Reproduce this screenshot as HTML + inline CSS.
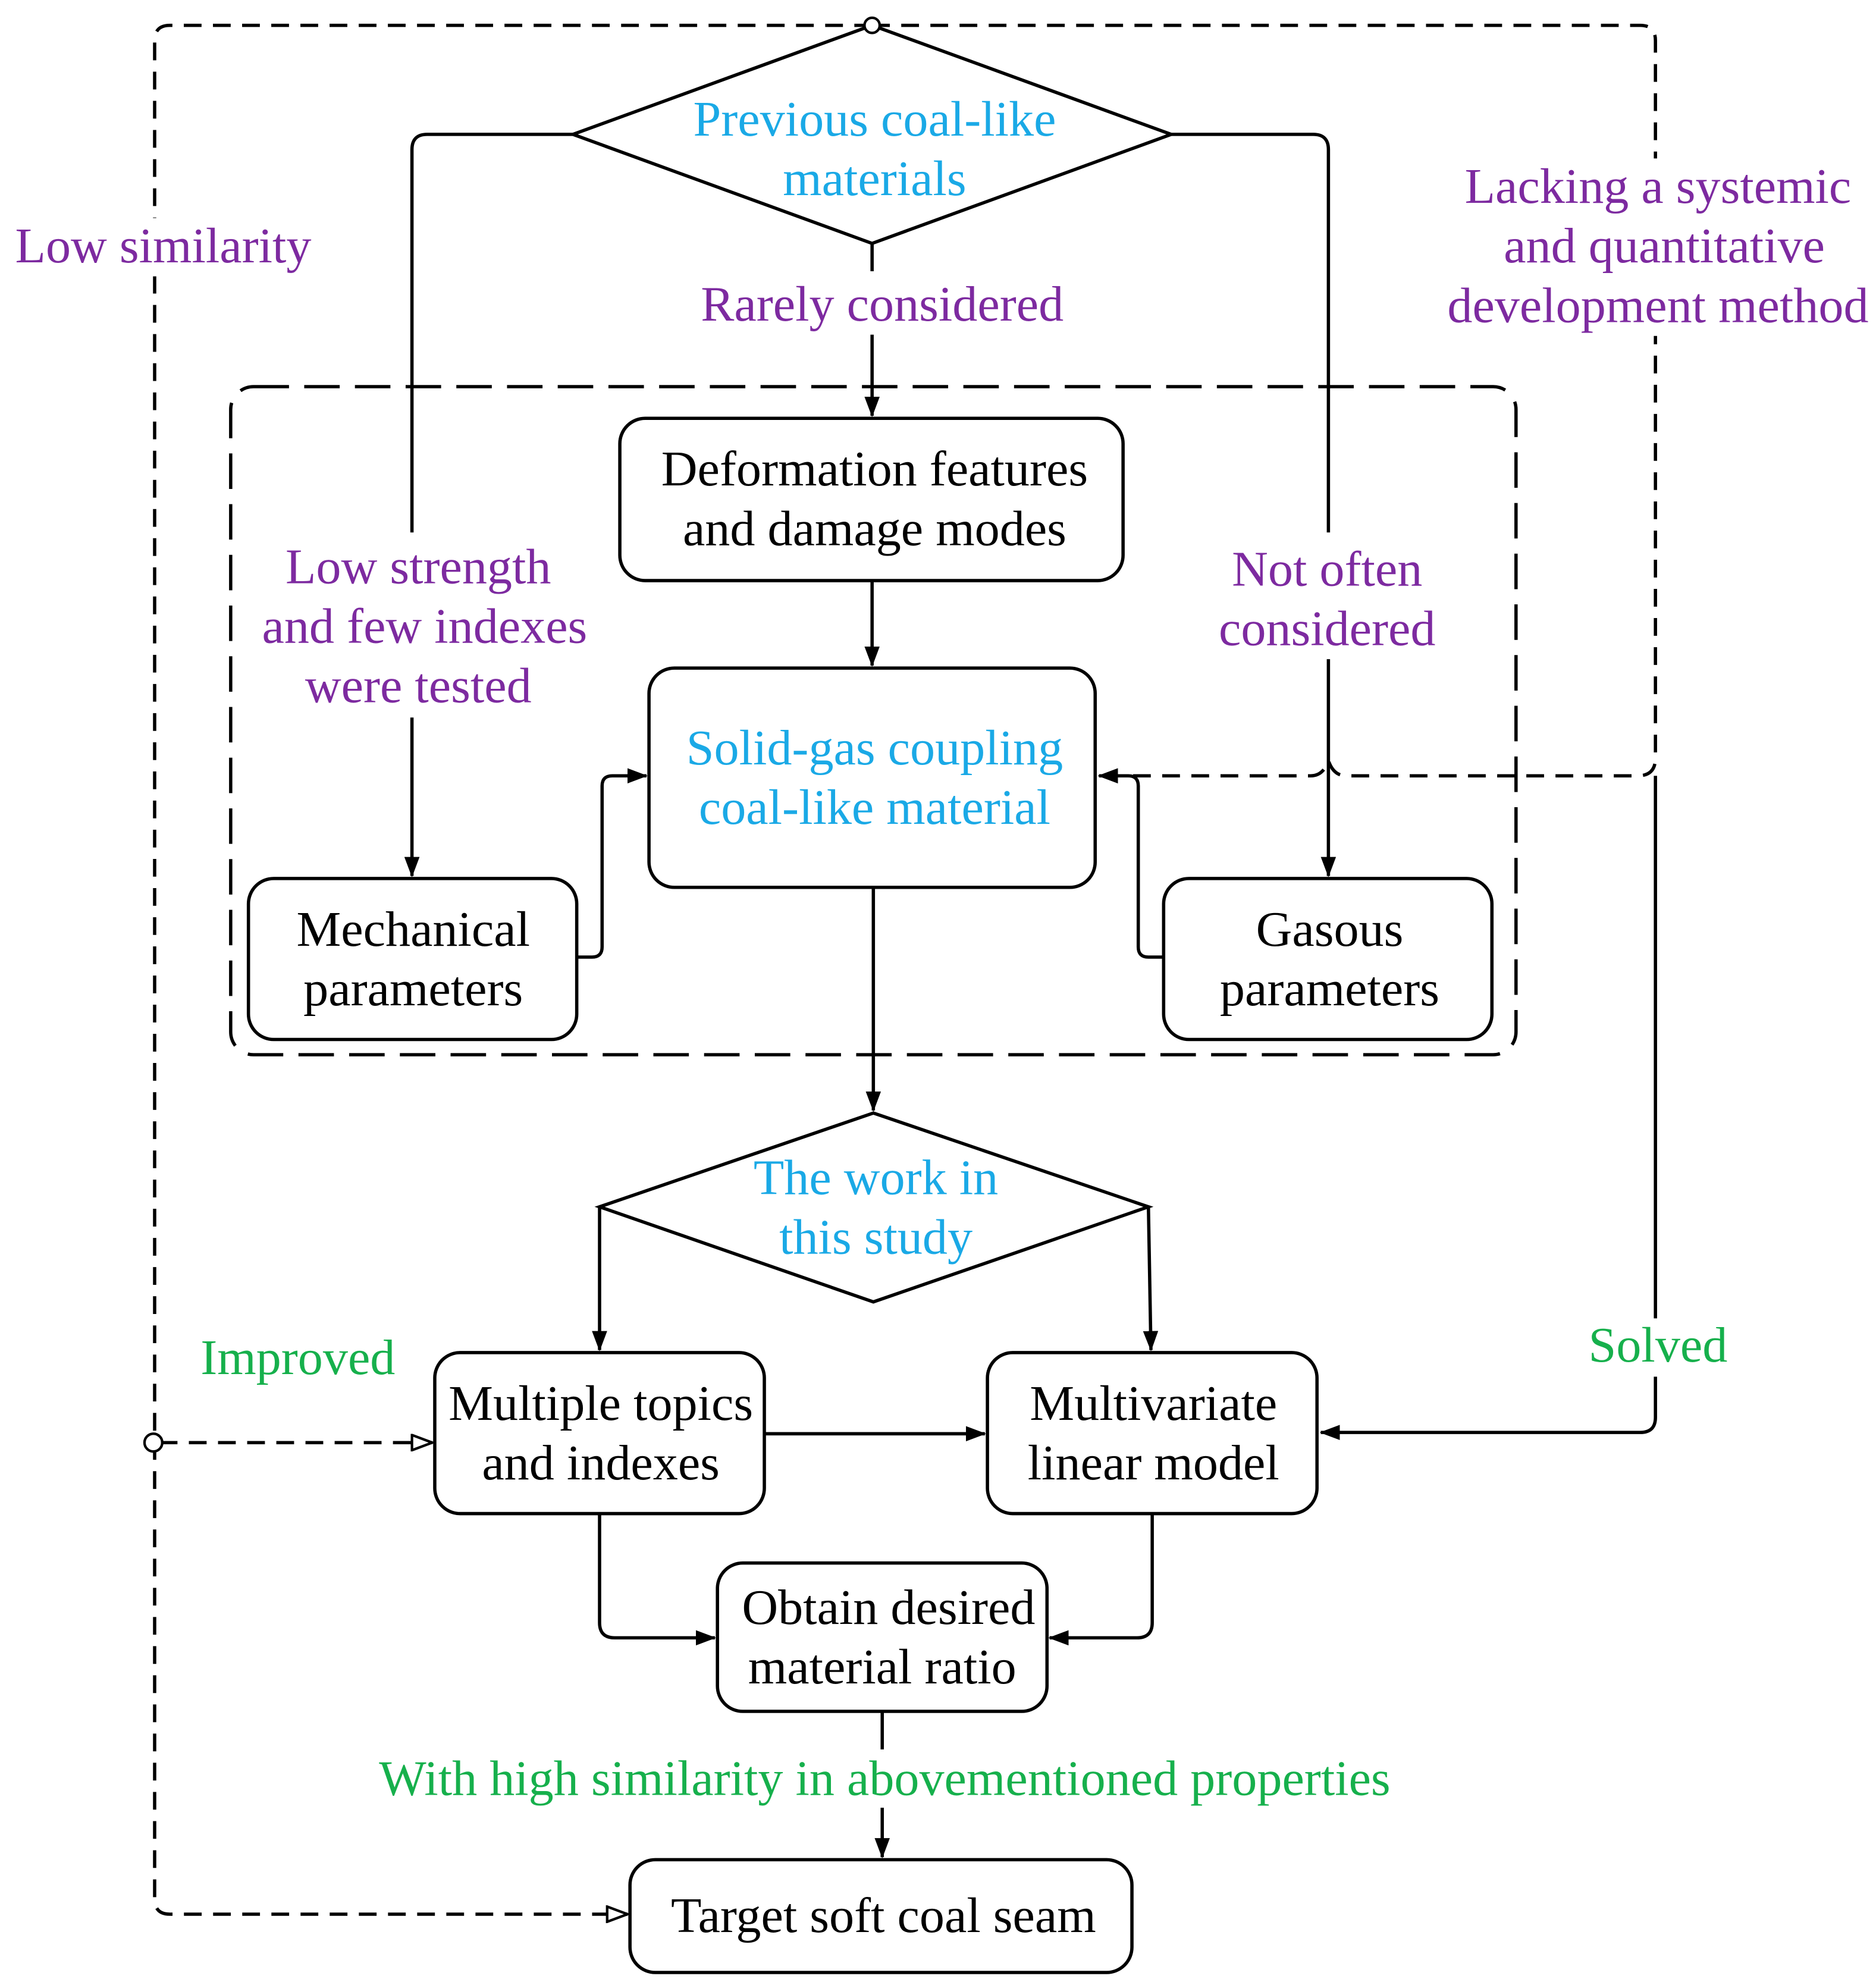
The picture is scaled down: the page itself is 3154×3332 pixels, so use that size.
<!DOCTYPE html>
<html><head><meta charset="utf-8"><style>
html,body{margin:0;padding:0;background:#fff;}
svg{display:block;}
text{font-family:"Liberation Serif",serif;font-size:39.5px;text-anchor:middle;}
.c{fill:#1aa9e6}.p{fill:#7d2aa0}.g{fill:#16b04c}.k{fill:#000}
</style></head><body>
<svg width="3154" height="3332" viewBox="0 0 1480 1563.5" preserveAspectRatio="none" xmlns="http://www.w3.org/2000/svg">
<defs>
<marker id="a" markerWidth="16" markerHeight="12" refX="15" refY="6" orient="auto" markerUnits="userSpaceOnUse"><path d="M0,0 L16,6 L0,12 Z" fill="#000"/></marker>
<marker id="h" markerWidth="18" markerHeight="14" refX="17" refY="7" orient="auto" markerUnits="userSpaceOnUse"><path d="M1,1 L17,7 L1,13 Z" fill="#fff" stroke="#000" stroke-width="2"/></marker>
</defs>
<g fill="none" stroke="#000" stroke-width="2.6">
<path d="M688,20 L134,20 Q122,20 122,32 L122,1498 Q122,1510 134,1510 L495,1510" stroke-dasharray="14,9" marker-end="url(#h)"/>
<path d="M688,20 L1294,20 Q1306,20 1306,32 L1306,598 Q1306,612 1292,612 L1062,612 Q1052,612 1048,600 Q1044,612 1034,612 L867,612" stroke-dasharray="14,9" marker-end="url(#a)"/>
<path d="M1306,612 L1306,1118 Q1306,1130 1294,1130 L1042,1130" marker-end="url(#a)"/>
<path d="M126,1138 L341,1138" stroke-dasharray="14,9" marker-end="url(#h)"/>
<rect x="182" y="305" width="1014" height="527" rx="18" stroke-dasharray="28,12"/>
<path d="M688,20 L924,106 L688,192 L452,106 Z"/>
<path d="M689,878 L906,952 L689,1027 L473,952 Z"/>
<rect x="489" y="330" width="397" height="128" rx="20"/>
<rect x="512" y="527" width="352" height="173" rx="20"/>
<rect x="196" y="693" width="259" height="127" rx="20"/>
<rect x="918" y="693" width="259" height="127" rx="20"/>
<rect x="343" y="1067" width="260" height="127" rx="20"/>
<rect x="779" y="1067" width="260" height="127" rx="20"/>
<rect x="566" y="1233" width="260" height="117" rx="20"/>
<rect x="497" y="1467" width="396" height="89" rx="20"/>
<path d="M452,106 L337,106 Q325,106 325,118 L325,420"/>
<path d="M325,566 L325,691" marker-end="url(#a)"/>
<path d="M924,106 L1036,106 Q1048,106 1048,118 L1048,420"/>
<path d="M1048,520 L1048,691" marker-end="url(#a)"/>
<path d="M688,192 L688,214"/>
<path d="M688,264 L688,328" marker-end="url(#a)"/>
<path d="M688,458 L688,525" marker-end="url(#a)"/>
<path d="M455,755 L467,755 Q475,755 475,747 L475,620 Q475,612 483,612 L510,612" marker-end="url(#a)"/>
<path d="M918,755 L906,755 Q898,755 898,747 L898,620 Q898,612 890,612 L867,612" marker-end="url(#a)"/>
<path d="M689,700 L689,876" marker-end="url(#a)"/>
<path d="M473,952 L473,1065" marker-end="url(#a)"/>
<path d="M906,952 L908,1065" marker-end="url(#a)"/>
<path d="M603,1131 L777,1131" marker-end="url(#a)"/>
<path d="M473,1194 L473,1280 Q473,1292 485,1292 L564,1292" marker-end="url(#a)"/>
<path d="M909,1194 L909,1280 Q909,1292 897,1292 L828,1292" marker-end="url(#a)"/>
<path d="M696,1350 L696,1380"/>
<path d="M696,1426 L696,1465" marker-end="url(#a)"/>
</g>
<g fill="#fff">
<rect x="8" y="172" width="238" height="46"/>
<rect x="1142" y="125" width="334" height="140"/>
<rect x="1250" y="1040" width="116" height="46"/>
</g>
<circle cx="688" cy="20" r="6" fill="#fff" stroke="#000" stroke-width="2"/>
<circle cx="121" cy="1138" r="7" fill="#fff" stroke="#000" stroke-width="2"/>
<text class="c" x="690" y="107">Previous coal-like</text>
<text class="c" x="690" y="154">materials</text>
<text class="p" x="696" y="253">Rarely considered</text>
<text class="k" x="690" y="383">Deformation features</text>
<text class="k" x="690" y="430">and damage modes</text>
<text class="c" x="690" y="603">Solid-gas coupling</text>
<text class="c" x="690" y="650">coal-like material</text>
<text class="k" x="326" y="746">Mechanical</text>
<text class="k" x="326" y="793">parameters</text>
<text class="k" x="1049" y="746">Gasous</text>
<text class="k" x="1049" y="793">parameters</text>
<text class="c" x="691" y="942">The work in</text>
<text class="c" x="691" y="989">this study</text>
<text class="k" x="474" y="1120">Multiple topics</text>
<text class="k" x="474" y="1167">and indexes</text>
<text class="k" x="910" y="1120">Multivariate</text>
<text class="k" x="910" y="1167">linear model</text>
<text class="k" x="701" y="1281">Obtain desired</text>
<text class="k" x="696" y="1328">material ratio</text>
<text class="k" x="697" y="1524">Target soft coal seam</text>
<text class="p" x="12" y="207" style="text-anchor:start">Low similarity</text>
<text class="p" x="1308" y="160">Lacking a systemic</text>
<text class="p" x="1313" y="207">and quantitative</text>
<text class="p" x="1308" y="254">development method</text>
<text class="p" x="330" y="460">Low strength</text>
<text class="p" x="335" y="507">and few indexes</text>
<text class="p" x="330" y="554">were tested</text>
<text class="p" x="1047" y="462">Not often</text>
<text class="p" x="1047" y="509">considered</text>
<text class="g" x="235" y="1084">Improved</text>
<text class="g" x="1308" y="1074">Solved</text>
<text class="g" x="698" y="1416">With high similarity in abovementioned properties</text>
</svg>
</body></html>
